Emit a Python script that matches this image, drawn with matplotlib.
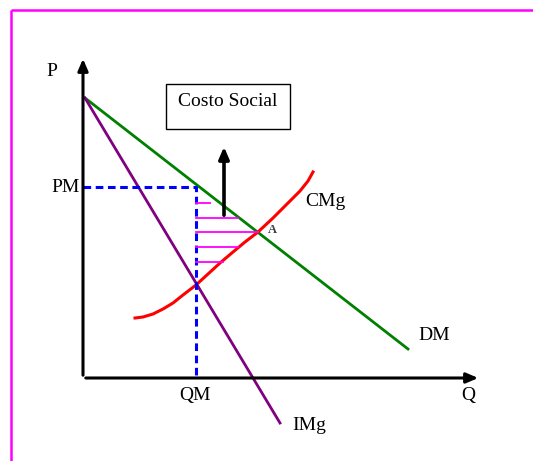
import numpy as np
import matplotlib.pyplot as plt

plt.rcParams['font.family'] = ['Liberation Serif', 'DejaVu Serif']

# Demand (DM) and marginal revenue (IMg) lines: quantity, price
dm_q = [2, 325]
dm_p = [280, 29]
img_q = [2, 197]
img_p = [280, -45]

# Marginal cost curve (CMg)
cmg_q = [52, 60, 70, 80, 90, 100, 113, 125, 137, 150, 162, 175, 190, 205, 217, 225, 230]
cmg_p = [60, 61, 64, 69, 75, 83, 93, 104, 115, 126, 136, 146, 160, 175, 187, 197, 206]

# Monopoly price / quantity
pm = 191
qm = 113

# Social cost hatching (price level, right end)
hatch_p = [175, 160, 146, 131, 116]
hatch_q = [127, 155, 175, 155, 140]

# Point A
a_q, a_p = 175, 145

fig = plt.figure(figsize=(5.33, 4.61), dpi=100)
ax = fig.add_axes([0, 0, 1, 1])
ax.set_xlim(-83, 450)
ax.set_ylim(-83, 378)
ax.axis('off')

# frame
ax.plot([-72, -72], [-90, 368], color='#ff00ff', lw=1.8, solid_capstyle='butt')
ax.plot([-72, 460], [368, 368], color='#ff00ff', lw=1.8, solid_capstyle='butt')

# axes with arrows
ax.annotate('', xy=(0, 322), xytext=(0, 0),
            arrowprops=dict(arrowstyle='-|>,head_length=0.7,head_width=0.3', color='black', lw=2.2))
ax.annotate('', xy=(398, 0), xytext=(0, 0),
            arrowprops=dict(arrowstyle='-|>,head_length=0.7,head_width=0.3', color='black', lw=2.2))

# curves
ax.plot(dm_q, dm_p, color='#008000', lw=2)
ax.plot(img_q, img_p, color='#800080', lw=2)
ax.plot(cmg_q, cmg_p, color='#ff0000', lw=2.2)

# monopoly dashed guides
ax.plot([0, qm, qm], [pm, pm, 0], color='#0000ff', lw=2.2, ls=(0, (2.5, 1.5)))

# hatching
for p, q in zip(hatch_p, hatch_q):
    ax.plot([qm, q], [p, p], color='#ff00ff', lw=1.3)

# social cost arrow
ax.annotate('', xy=(141, 234), xytext=(141, 160),
            arrowprops=dict(arrowstyle='-|>,head_length=0.7,head_width=0.3', color='black', lw=2.6))

# Costo Social box
ax.add_patch(plt.Rectangle((83, 249), 124, 45, fill=False, edgecolor='black', lw=1))
ax.text(95, 276, 'Costo Social', fontsize=14, va='center', ha='left')

# labels
ax.text(-31, 306, 'P', fontsize=14, ha='center', va='center')
ax.text(-3, pm, 'PM', fontsize=14, ha='right', va='center')
ax.text(qm - 1, -17, 'QM', fontsize=14, ha='center', va='center')
ax.text(385, -17, 'Q', fontsize=14, ha='center', va='center')
ax.text(335, 42, 'DM', fontsize=14, ha='left', va='center')
ax.text(209, -47, 'IMg', fontsize=14, ha='left', va='center')
ax.text(222, 176, 'CMg', fontsize=14, ha='left', va='center')
ax.text(a_q + 14, a_p + 3, 'A', fontsize=9, ha='center', va='center', color='#404040', fontweight='bold')

fig.savefig('out.png', dpi=100)
